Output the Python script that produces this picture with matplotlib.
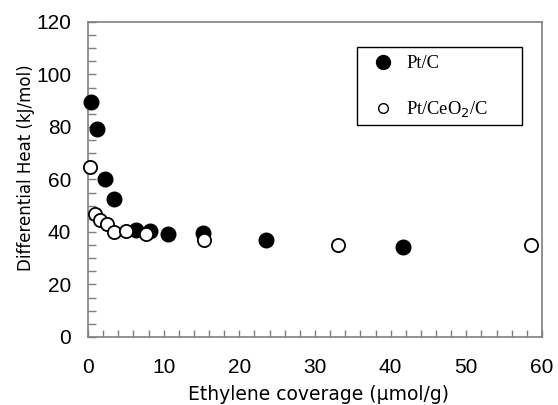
import matplotlib
matplotlib.use("Agg")
import matplotlib.pyplot as plt
from matplotlib.ticker import MultipleLocator
from matplotlib.lines import Line2D
from matplotlib.patches import Rectangle

ptc_x = [0.35, 1.2, 2.3, 3.5, 6.4, 8.2, 10.6, 15.2, 23.5, 41.6]
ptc_y = [89.5, 79.1, 60.3, 52.7, 40.9, 40.4, 39.2, 39.5, 36.9, 34.3]
ptceo_x = [0.26, 0.9, 1.6, 2.5, 3.5, 5.0, 7.6, 15.3, 33.1, 58.6]
ptceo_y = [64.7, 46.8, 44.5, 43.2, 40.0, 40.3, 39.4, 36.9, 35.0, 35.0]

x_ticks = [0, 10, 20, 30, 40, 50, 60]
y_ticks = [0, 20, 40, 60, 80, 100, 120]

plt.rcParams['font.family'] = ['Liberation Sans', 'DejaVu Sans']

fig = plt.figure(figsize=(5.58, 4.05), dpi=100)
ax = fig.add_axes([0.1577, 0.168, 0.8136, 0.7777])

ax.plot(ptc_x, ptc_y, 'o', color='black', markersize=10.5, linestyle='none', zorder=3,
        clip_on=False)
ax.plot(ptceo_x, ptceo_y, 'o', markerfacecolor='white', markeredgecolor='black',
        markeredgewidth=1.3, markersize=9.5, linestyle='none', zorder=4, clip_on=False)

ax.set_xlim(0, 60)
ax.set_ylim(0, 120)
ax.set_xticks(x_ticks)
ax.set_yticks(y_ticks)
ax.xaxis.set_minor_locator(MultipleLocator(2))
ax.yaxis.set_minor_locator(MultipleLocator(5))

spine_col = '#7f7f7f'
for s in ax.spines.values():
    s.set_color(spine_col)
    s.set_linewidth(1.2)
ax.tick_params(which='both', direction='in', color=spine_col, width=1.0,
               top=False, right=False)
ax.tick_params(axis='y', which='both', length=6)
ax.tick_params(axis='x', which='both', length=5)
ax.tick_params(axis='y', labelsize=15, pad=12)
ax.tick_params(axis='x', labelsize=15, pad=15)

ax.set_xlabel('Ethylene coverage (\u03bcmol/g)', fontsize=13.5, family='DejaVu Sans',
              va='top')
ax.set_ylabel('Differential Heat (kJ/mol)', fontsize=12, family='DejaVu Sans')
ax.xaxis.set_label_coords(0.507, -0.152)
ax.yaxis.set_label_coords(-0.117, 0.537)

# legend frame
ax.add_patch(Rectangle((0.5925, 0.673), 0.956 - 0.5925, 0.9206 - 0.673,
                       transform=ax.transAxes, fill=False, edgecolor='black',
                       linewidth=1.0, zorder=5, clip_on=False))
h1 = Line2D([], [], marker='o', color='black', linestyle='none', markersize=10)
h2 = Line2D([], [], marker='o', markerfacecolor='white', markeredgecolor='black',
            markeredgewidth=1.0, linestyle='none', markersize=7)
leg = ax.legend([h1, h2], ['Pt/C', 'Pt/CeO$_2$/C'],
                prop={'family': 'Liberation Serif', 'size': 13.3},
                loc='upper left', bbox_to_anchor=(0.5925, 0.9206),
                frameon=False, borderpad=0.45, labelspacing=1.47,
                handlelength=1.9, handletextpad=0.3, borderaxespad=0)
leg.set_zorder(6)

fig.savefig('out.png', dpi=100)
